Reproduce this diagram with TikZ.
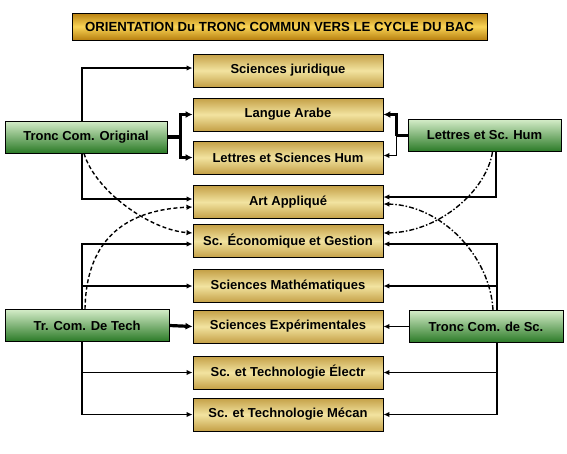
\documentclass[tikz,border=0pt]{standalone}
\usepackage{fontspec}
\setmainfont{Liberation Sans}
\usetikzlibrary{arrows.meta}
\definecolor{goldD}{HTML}{C4A046}
\definecolor{goldL}{HTML}{F2E3A0}
\definecolor{greenL}{HTML}{D4ECC8}
\definecolor{greenD}{HTML}{2A7A26}
\definecolor{titD}{HTML}{B8800F}
\definecolor{titL}{HTML}{F9D456}
\tikzset{
  goldbox/.style={draw=black, line width=0.9pt, minimum width=190pt, minimum height=33pt,
    top color=goldD, bottom color=goldD, middle color=goldL, inner sep=0pt,
    font=\bfseries\fontsize{13}{15}\selectfont},
  greenbox/.style={draw=black, line width=0.9pt, minimum width=162pt, minimum height=32pt,
    top color=greenL, bottom color=greenD, inner sep=0pt,
    font=\bfseries\fontsize{13}{15}\selectfont},
  titlebox/.style={draw=black, line width=0.9pt, minimum width=415pt, minimum height=27pt,
    top color=titD, bottom color=titD, middle color=titL, inner sep=0pt,
    font=\bfseries\fontsize{13.2}{15}\selectfont},
  arr/.style={line width=1.8pt, -{Latex[length=6pt,width=5.5pt]}},
  tharr/.style={line width=3.2pt, -{Latex[length=7pt,width=7pt]}},
  thick line/.style={line width=3.4pt},
  dsh/.style={line width=1.4pt, dash pattern=on 4pt off 2.5pt, -{Latex[length=6pt,width=5.5pt]}},
  ddot/.style={line width=1.4pt, dash pattern=on 5pt off 2pt on 1.5pt off 2pt, -{Latex[length=6pt,width=5.5pt]}},
}
\begin{document}
\begin{tikzpicture}[x=1pt,y=-1pt]
\useasboundingbox (0,0) rectangle (567,453);
% title
\node[titlebox] (title) at (279.5,26.5) {ORIENTATION Du TRONC COMMUN VERS LE CYCLE DU BAC};
% gold boxes
\node[goldbox] (jur) at (288,70.5) {Sciences juridique};
\node[goldbox] (arabe) at (288,114.5) {Langue Arabe};
\node[goldbox] (lsh) at (288,157.5) {Lettres et Sciences Hum};
\node[goldbox] (art) at (288,202) {Art Appliqué};
\node[goldbox] (eco) at (288,241) {Sc. Économique et Gestion};
\node[goldbox] (math) at (288,286) {Sciences Mathématiques};
\node[goldbox] (exp) at (288,326.5) {Sciences Expérimentales};
\node[goldbox] (elec) at (288,372.5) {Sc. et Technologie Électr};
\node[goldbox] (meca) at (288,414.5) {Sc. et Technologie Mécan};
% green boxes
\node[greenbox] (orig) at (86,137) {Tronc Com. Original};
\node[greenbox, minimum width=164pt] (tech) at (87,325.5) {Tr. Com. De Tech};
\node[greenbox, minimum width=153pt] (lett) at (484.5,135.5) {Lettres et Sc. Hum};
\node[greenbox, minimum width=154pt] (sc) at (486,326.5) {Tronc Com. de Sc.};
% Tronc Com. Original
\draw[arr] ([xshift=-4pt]orig.north) |- ([yshift=2.5pt]jur.west);
\draw[arr] ([xshift=-4pt]orig.south) |- ([yshift=3pt]art.west);
\draw[thick line] (orig.east) -- ++(13,0) coordinate (fl);
\draw[tharr] (fl) |- (arabe.west);
\draw[tharr] (fl) |- (lsh.west);
\draw[dsh] ([xshift=-2pt]orig.south) .. controls +(11,37) and +(-43,-3) .. ([yshift=8pt]eco.west);
% Lettres et Sc. Hum
\draw[thick line] (lett.west) -- ++(-11,0) coordinate (fr);
\draw[tharr] (fr) |- (arabe.east);
\draw[arr] (fr) |- ([yshift=2pt]lsh.east);
\draw[arr] ([xshift=11.5pt]lett.south) |- ([yshift=5pt]art.east);
\draw[ddot] ([xshift=8pt]lett.south) .. controls +(-6,38) and +(57,-1) .. ([yshift=8pt]eco.east);
% Tr. Com. De Tech
\draw[arr] ([xshift=-5pt]tech.north) |- ([yshift=-3pt]eco.west);
\draw[arr] ([xshift=-5pt]tech.north) |- (math.west);
\draw[arr] ([xshift=-5pt]tech.south) |- (elec.west);
\draw[arr] ([xshift=-5pt]tech.south) |- (meca.west);
\draw[tharr] (tech.east) -- (exp.west);
\draw[dsh] ([xshift=-2pt]tech.north) .. controls +(1,-64) and +(-73,3) .. ([yshift=-5pt]art.west);
% Tronc Com. de Sc.
\draw[arr] ([xshift=11pt]sc.north) |- ([yshift=-3pt]eco.east);
\draw[arr] ([xshift=11pt]sc.north) |- (math.east);
\draw[arr] ([xshift=11pt]sc.south) |- (elec.east);
\draw[arr] ([xshift=11pt]sc.south) |- (meca.east);
\draw[arr] (sc.west) -- (exp.east);
\draw[ddot] ([xshift=7pt]sc.north) .. controls +(-3,-55) and +(57,1) .. ([yshift=-2pt]art.east);
\end{tikzpicture}
\end{document}
